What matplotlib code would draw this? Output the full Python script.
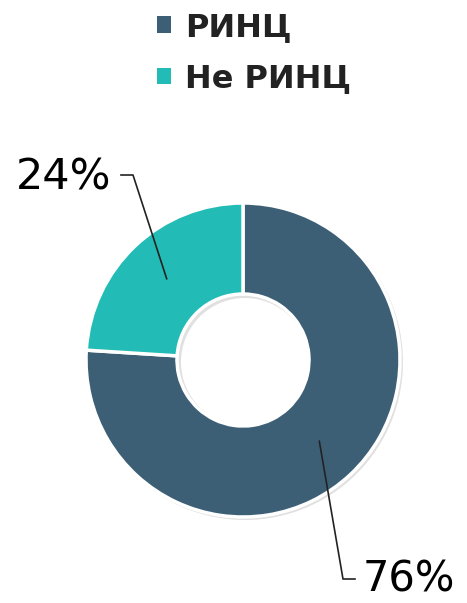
import numpy as np
import matplotlib.pyplot as plt
from matplotlib.patches import Patch

# Данные
labels = ["РИНЦ", "Не РИНЦ"]
values = [76, 24]
colors = ["#3d5f76", "#22bbb5"]

fig = plt.figure(figsize=(4.67, 6.03), dpi=100)
ax = fig.add_axes([0, 0, 1, 1])

cx, cy = 243, 243
r = 157
w = 91

# лёгкая тень под кольцом
ax.pie([1], radius=r + 1, center=(cx + 2, cy - 2), colors=["#000000"],
       wedgeprops=dict(width=w + 3, alpha=0.12, linewidth=0), frame=True)
ax.pie(values, radius=r, center=(cx, cy), colors=colors, startangle=90,
       counterclock=False,
       wedgeprops=dict(width=w, edgecolor="white", linewidth=2.5), frame=True)
ax.set_xlim(0, 467)
ax.set_ylim(0, 603)
ax.set_aspect("equal")
ax.axis("off")

# подписи с выносками
total = sum(values)
start = 90
label_pos = [(343, 24, 355, "left"), (133, 428, 121, "right")]
for v, (ex, ey, hx, ha) in zip(values, label_pos):
    ang = np.deg2rad(start - v / total * 360 / 2)
    start -= v / total * 360
    rm = r - w / 2
    px, py = cx + rm * np.cos(ang), cy + rm * np.sin(ang)
    ax.plot([px, ex, hx], [py, ey, ey], color="#222222", lw=1.2)
    if ha == "left":
        ax.text(hx + 8, 11, f"{v}%", ha="left", va="baseline", fontsize=30, color="black")
    else:
        ax.text(hx - 10, ey - 2, f"{v}%", ha="right", va="center", fontsize=31, color="black")

handles = [Patch(facecolor=c) for c in colors]
leg = ax.legend(handles, labels, loc="upper left", bbox_to_anchor=(0.337, 0.98),
                frameon=False, borderpad=0, borderaxespad=0,
                handlelength=0.42, handleheight=0.42, handletextpad=0.45,
                labelspacing=0.64, prop=dict(size=23, weight="bold"))
for t in leg.get_texts():
    t.set_color("#222222")

fig.savefig("out.png", dpi=100)
